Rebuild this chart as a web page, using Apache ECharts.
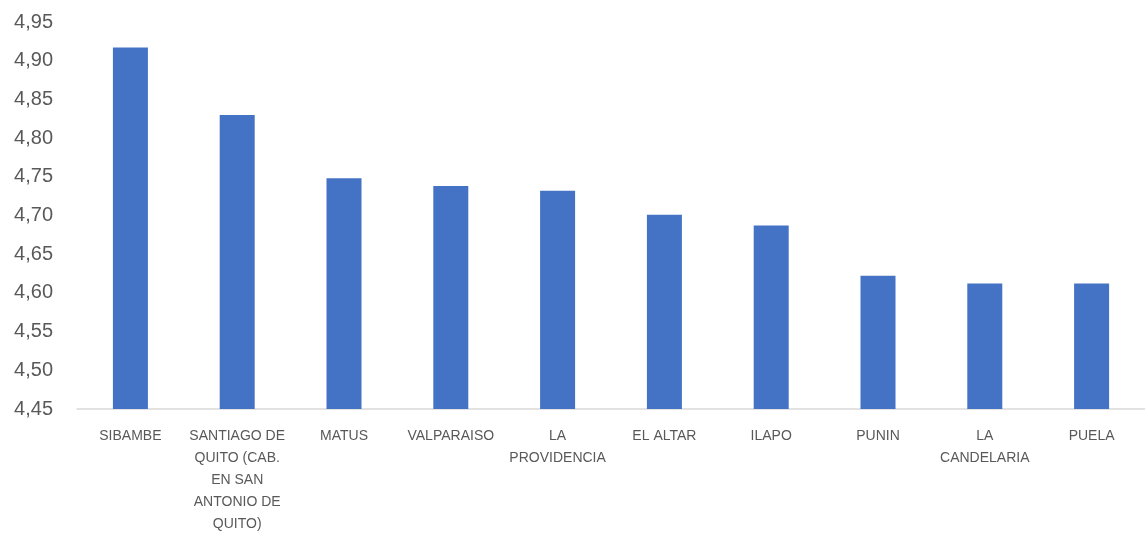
<!DOCTYPE html>
<html>
<head>
<meta charset="utf-8">
<script src="https://cdn.jsdelivr.net/npm/echarts@6/dist/echarts.min.js"></script>
<style>
  html, body { margin: 0; padding: 0; background: #fff; overflow: hidden; }
  #chart { width: 1145px; height: 535px; }
</style>
</head>
<body>
<div id="chart"></div>
<script>
var parroquias = ['SIBAMBE', 'SANTIAGO DE\nQUITO (CAB.\nEN SAN\nANTONIO DE\nQUITO)', 'MATUS', 'VALPARAISO', 'LA\nPROVIDENCIA', 'EL ALTAR', 'ILAPO', 'PUNIN', 'LA\nCANDELARIA', 'PUELA'];
var valores = [4.917, 4.830, 4.748, 4.738, 4.732, 4.701, 4.687, 4.622, 4.612, 4.612];

var chart = echarts.init(document.getElementById('chart'));

var option = {
  animation: false,
  grid: { left: 77, width: 1074, top: 22, bottom: 123 },
  xAxis: {
    type: 'category',
    data: parroquias,
    axisLine: { lineStyle: { color: '#d9d9d9', width: 1.5 } },
    axisTick: { show: false },
    axisLabel: {
      color: '#595959',
      fontFamily: 'Liberation Sans',
      fontSize: 14,
      lineHeight: 22,
      margin: 16,
      interval: 0
    }
  },
  yAxis: {
    type: 'value',
    min: 4.45,
    max: 4.95,
    interval: 0.05,
    axisLine: { show: false },
    axisTick: { show: false },
    splitLine: { show: false },
    axisLabel: {
      color: '#595959',
      fontFamily: 'Liberation Sans',
      fontSize: 20,
      margin: 24,
      formatter: function (v) { return v.toFixed(2).replace('.', ','); }
    }
  },
  series: [{
    type: 'bar',
    data: valores,
    barWidth: 35,
    itemStyle: { color: '#4472c4' }
  }]
};

chart.setOption(option);
</script>
</body>
</html>
